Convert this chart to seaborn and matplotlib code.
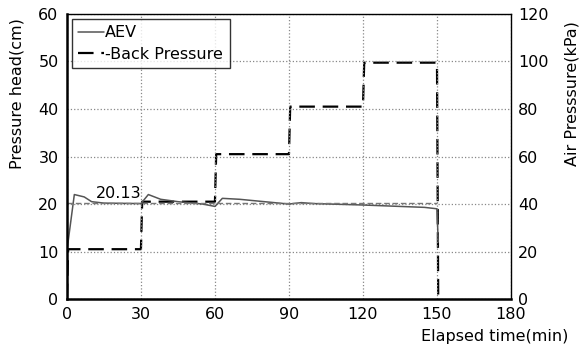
import numpy as np
import pandas as pd
import matplotlib
matplotlib.use('Agg')
import matplotlib.pyplot as plt
import seaborn as sns

# AEV (pressure head, cm)
aev_time = [0, 3, 7, 10, 15, 30, 33, 38, 45, 55, 60, 63, 70, 80, 90, 95, 100, 120, 145, 150, 150.5]
aev_head = [10.2, 22.0, 21.5, 20.5, 20.2, 20.1, 22.0, 21.0, 20.5, 20.0, 19.5, 21.2, 21.0, 20.5, 20.0, 20.3, 20.1, 19.8, 19.3, 19.0, 12.0]

# Back pressure (kPa), right axis
bp_time = [0, 0.5, 30, 30.5, 60, 60.5, 90, 90.5, 120, 120.5, 150, 150.5]
bp_kpa = [0, 21, 21, 41, 41, 61, 61, 81, 81, 99.5, 99.5, 0]

ref_value = 20.13

aev_df = pd.DataFrame({'time': aev_time, 'head': aev_head})
bp_df = pd.DataFrame({'time': bp_time, 'kpa': bp_kpa})

sns.set_style('white')
plt.rcParams['font.family'] = ['DejaVu Sans']
plt.rcParams.update({'text.color': 'black', 'axes.labelcolor': 'black',
                     'xtick.color': 'black', 'ytick.color': 'black'})

fig, ax = plt.subplots(figsize=(5.82, 3.49), dpi=100)
fig.subplots_adjust(left=0.115, right=0.878, top=0.96, bottom=0.143)
ax2 = ax.twinx()

dash = (0, (7, 3.5))
sns.lineplot(data=aev_df, x='time', y='head', ax=ax, color='#555555', lw=1.1, label='AEV', sort=False)
sns.lineplot(data=bp_df, x='time', y='kpa', ax=ax2, color='black', lw=1.6, linestyle=dash, sort=False)
ax.axhline(ref_value, xmin=0, xmax=150 / 180, color='#777777', lw=1.0, linestyle=(0, (4, 2)))
ax.text(21, 22.3, f'{ref_value:.2f}', ha='center', va='center', fontsize=11.5)

# legend entry for back pressure on the main axis
ax.plot([], [], color='black', lw=1.6, linestyle=dash, label='-Back Pressure')
leg = ax.legend(loc='upper left', fontsize=11.5, frameon=True, fancybox=False,
                handlelength=1.6, handletextpad=0.1, borderaxespad=0.3, labelspacing=0.4)
leg.get_frame().set_edgecolor('black')
leg.get_frame().set_linewidth(1.0)
ax.set_zorder(ax2.get_zorder() + 1)
ax.patch.set_visible(False)

ax.set_xlim(0, 180)
ax.set_ylim(0, 60)
ax2.set_ylim(0, 120)
ax.set_xticks(range(0, 181, 30))
ax.set_yticks(range(0, 61, 10))
ax2.set_yticks(range(0, 121, 20))
ax.tick_params(labelsize=11.5, length=0, pad=6)
ax2.tick_params(labelsize=11.5, length=0, pad=5)

ax.grid(True, color='#888888', linestyle=':', lw=0.9)
ax2.grid(False)
for s in ['left', 'bottom']:
    ax.spines[s].set_linewidth(1.8)
    ax.spines[s].set_color('black')
for s in ['top', 'right']:
    ax.spines[s].set_linewidth(1.0)
    ax.spines[s].set_color('black')
for s in ax2.spines.values():
    s.set_visible(False)

ax.set_xlabel('Elapsed time(min)', fontsize=11.5, ha='right')
ax.xaxis.set_label_coords(1.13, -0.105)
ax.set_ylabel('Pressure head(cm)', fontsize=11.5)
ax.yaxis.set_label_coords(-0.095, 0.72)
ax2.set_ylabel('Air Presssure(kPa)', fontsize=11.5)
ax2.yaxis.set_label_coords(1.12, 0.72)

fig.savefig('out.png', dpi=100)
